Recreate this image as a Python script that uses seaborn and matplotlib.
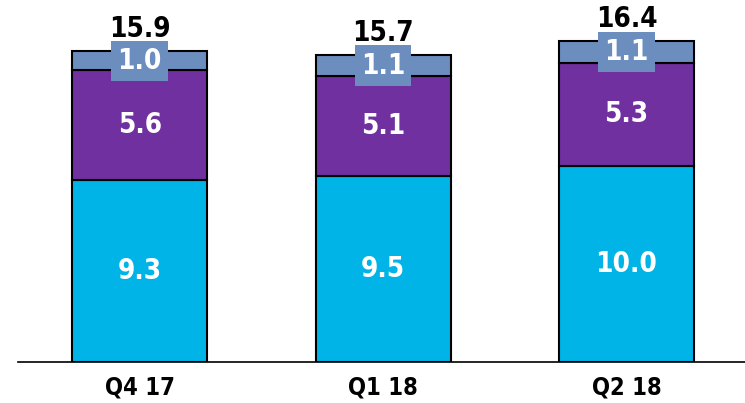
import matplotlib
matplotlib.use("Agg")
import matplotlib.pyplot as plt
import seaborn as sns
import pandas as pd

categories = ["Q4 17", "Q1 18", "Q2 18"]
base_vals = [9.3, 9.5, 10.0]
mid_vals = [5.6, 5.1, 5.3]
top_vals = [1.0, 1.1, 1.1]
totals = [15.9, 15.7, 16.4]

sns.set_theme(style="white")
plt.rcParams['font.family'] = ['DejaVu Sans']
plt.rcParams['font.stretch'] = 'condensed'

df = pd.DataFrame({"cat": categories, "base": base_vals, "mid": mid_vals, "top": top_vals})
df["b2"] = df["base"] + df["mid"]

fig = plt.figure(figsize=(7.45, 4.03), dpi=100)
ax = fig.add_axes([18/745, 1 - 362/403, 1 - 18/745, 362/403])

c_base, c_mid, c_top = "#00B4E8", "#7030A0", "#6C8EBF"
w = 0.555
sns.barplot(data=df, x="cat", y="base", color=c_base, saturation=1, width=w,
            edgecolor="black", linewidth=1.5, ax=ax)
sns.barplot(data=df, x="cat", y="mid", bottom=df["base"], color=c_mid, saturation=1, width=w,
            edgecolor="black", linewidth=1.5, ax=ax)
sns.barplot(data=df, x="cat", y="top", bottom=df["b2"], color=c_top, saturation=1, width=w,
            edgecolor="black", linewidth=1.5, ax=ax)

fs = 20
for i in range(len(categories)):
    b, m, t = base_vals[i], mid_vals[i], top_vals[i]
    ax.text(i, b / 2, f"{b:.1f}", ha="center", va="center", color="white",
            fontsize=fs, fontweight="bold")
    ax.text(i, b + m / 2, f"{m:.1f}", ha="center", va="center", color="white",
            fontsize=fs, fontweight="bold")
    ax.text(i, b + m + t / 2, f"{t:.1f}", ha="center", va="center", color="white",
            fontsize=fs, fontweight="bold",
            bbox=dict(boxstyle="square,pad=0.22", facecolor=c_top, edgecolor="none"))
    ax.text(i, totals[i] + 0.72, f"{totals[i]:.1f}", ha="center", va="baseline", color="black",
            fontsize=fs, fontweight="bold")

ax.set_xlim(-0.5, 2.487)
ax.set_ylim(0, 18.5)
ax.set_xlabel("")
ax.set_ylabel("")
ax.set_yticks([])
for s in ["top", "right", "left"]:
    ax.spines[s].set_visible(False)
ax.spines["bottom"].set_color("black")
ax.spines["bottom"].set_linewidth(1.2)
ax.tick_params(axis="x", length=0, pad=10)
for lab in ax.get_xticklabels():
    lab.set_fontsize(17)
    lab.set_fontweight("bold")
    lab.set_color("black")
ax.patch.set_alpha(0)

fig.savefig("out.png", dpi=100)
